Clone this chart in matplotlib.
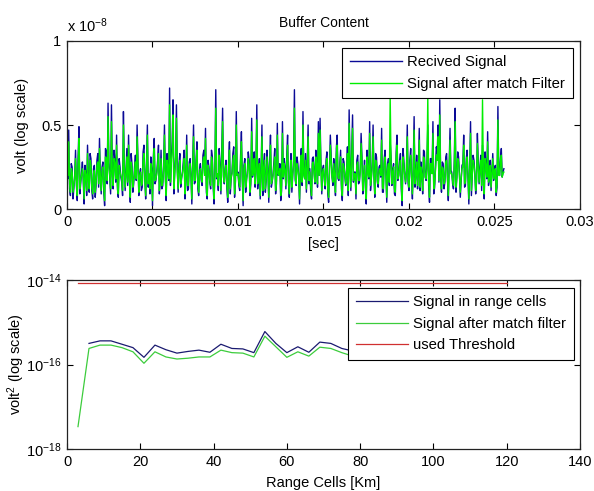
import numpy as np
import matplotlib
matplotlib.use("Agg")
import matplotlib.pyplot as plt
from matplotlib.ticker import FuncFormatter, FixedLocator

plt.rcParams['font.family'] = ['Liberation Sans', 'DejaVu Sans']
plt.rcParams['mathtext.fontset'] = 'custom'
plt.rcParams['mathtext.rm'] = 'Liberation Sans'
plt.rcParams['mathtext.it'] = 'Liberation Sans'

# ---------------- data: top panel (units of 1e-10 V) ----------------
dt = 5e-5
# samples at even indices
received_even = [
    30, 47, 8, 25, 12, 35, 5, 49, 15, 28,
    3, 22, 38, 10, 30, 6, 26, 14, 33, 42,
    9, 28, 2, 34, 63, 18, 62, 12, 30, 44,
    7, 25, 16, 58, 11, 36, 44, 4, 27, 15,
    32, 50, 8, 24, 13, 38, 6, 50, 20, 31,
    2, 42, 17, 29, 9, 35, 14, 50, 5, 26,
    72, 30, 65, 22, 62, 10, 33, 18, 28, 6,
    44, 12, 30, 3, 50, 16, 40, 8, 27, 14,
    35, 48, 6, 25, 12, 31, 3, 71, 20, 36,
    9, 60, 15, 29, 4, 40, 18, 33, 7, 58,
    22, 11, 46, 2, 30, 17, 34, 8, 54, 24,
    13, 62, 19, 6, 50, 26, 10, 35, 4, 44,
    16, 28, 9, 51, 21, 5, 52, 30, 12, 44,
    7, 33, 20, 71, 14, 27, 3, 36, 58, 18,
    10, 50, 24, 6, 31, 15, 29, 52, 54, 9,
    26, 12, 34, 4, 44, 19, 30, 8, 44, 17,
    35, 5, 28, 14, 37, 59, 11, 56, 22, 6,
    32, 16, 45, 9, 29, 3, 24, 52, 18, 50,
    7, 31, 13, 26, 48, 10, 35, 4, 30, 40,
    14, 27, 8, 44, 20, 33, 2, 29, 15, 50,
    11, 36, 6, 55, 21, 12, 48, 28, 9, 34,
    17, 50, 4, 30, 52, 13, 37, 50, 65, 10,
    27, 16, 33, 5, 48, 22, 12, 60, 19, 31,
    7, 26, 44, 14, 35, 3, 52, 20, 29, 9,
    45, 15, 32, 38, 6, 27, 46, 18, 11, 33,
    24, 8, 61, 20, 36, 22,
]
# samples at odd indices
received_odd = [
    18, 12, 27, 6, 20, 14, 31, 9, 22, 17,
    26, 8, 19, 33, 11, 24, 7, 29, 13, 21,
    25, 10, 36, 15, 28, 9, 23, 35, 16, 12,
    30, 19, 8, 27, 22, 14, 20, 33, 10, 25,
    17, 29, 21, 11, 34, 18, 27, 13, 9, 24,
    31, 15, 22, 38, 16, 12, 26, 19, 33, 17,
    14, 40, 9, 31, 24, 27, 13, 22, 35, 18,
    11, 28, 20, 26, 15, 30, 12, 23, 17, 32,
    21, 10, 29, 16, 35, 13, 24, 18, 11, 27,
    33, 19, 25, 12, 28, 9, 22, 37, 16, 20,
    14, 31, 18, 26, 10, 23, 29, 15, 19, 34,
    25, 12, 30, 22, 8, 33, 17, 24, 28, 13,
    21, 36, 15, 20, 27, 11, 18, 25, 32, 16,
    23, 10, 29, 17, 31, 19, 26, 14, 21, 33,
    28, 15, 11, 30, 22, 35, 13, 20, 27, 24,
    17, 29, 9, 25, 32, 14, 21, 36, 18, 26,
    12, 30, 19, 23, 8, 27, 34, 16, 22, 29,
    15, 24, 31, 20, 13, 35, 18, 11, 28, 21,
    33, 16, 25, 19, 10, 30, 22, 27, 14, 31,
    24, 9, 34, 17, 28, 12, 36, 20, 23, 15,
    29, 18, 26, 13, 32, 24, 11, 21, 35, 19,
    27, 14, 30, 22, 9, 25, 33, 16, 20, 28,
    12, 31, 18, 26, 23, 15, 29, 10, 34, 21,
    17, 27, 13, 30, 19, 24, 8, 32, 22, 16,
    28, 25, 11, 20, 34, 18, 14, 29, 23, 17,
    26, 13, 21, 30, 19, 24,
]
filtered_even = [
    26, 40, 10, 22, 14, 30, 8, 42, 17, 24,
    6, 20, 33, 12, 26, 9, 23, 16, 28, 36,
    11, 25, 5, 30, 55, 20, 52, 14, 27, 38,
    9, 22, 18, 50, 13, 31, 38, 7, 24, 17,
    28, 43, 10, 22, 15, 33, 8, 44, 21, 27,
    5, 36, 18, 26, 11, 30, 16, 44, 8, 24,
    62, 27, 56, 21, 54, 12, 29, 19, 25, 9,
    38, 14, 27, 6, 43, 17, 35, 10, 24, 16,
    31, 42, 8, 23, 14, 28, 6, 60, 21, 32,
    11, 52, 16, 26, 7, 35, 19, 29, 9, 50,
    21, 13, 40, 5, 27, 18, 30, 10, 46, 22,
    15, 53, 19, 8, 43, 24, 12, 31, 7, 38,
    17, 25, 11, 44, 20, 8, 45, 27, 14, 38,
    9, 29, 21, 60, 15, 24, 6, 32, 50, 18,
    12, 43, 22, 8, 28, 16, 26, 45, 47, 11,
    24, 14, 30, 7, 38, 19, 27, 10, 38, 18,
    31, 8, 25, 15, 33, 51, 13, 48, 21, 9,
    28, 17, 39, 11, 26, 6, 22, 45, 19, 43,
    9, 28, 15, 24, 41, 12, 31, 7, 27, 67,
    15, 25, 10, 38, 20, 29, 5, 26, 16, 43,
    13, 32, 9, 47, 20, 14, 41, 25, 11, 30,
    18, 67, 7, 27, 45, 15, 32, 43, 56, 12,
    24, 17, 29, 8, 41, 21, 14, 52, 19, 28,
    10, 24, 38, 16, 31, 6, 45, 20, 26, 11,
    39, 16, 29, 65, 9, 25, 40, 18, 13, 30,
    22, 10, 53, 20, 32, 21,
]
filtered_odd = [
    20, 15, 24, 10, 18, 16, 27, 12, 20, 19,
    23, 11, 17, 29, 13, 21, 10, 26, 15, 19,
    22, 13, 31, 17, 25, 12, 21, 30, 18, 14,
    26, 20, 11, 24, 21, 16, 19, 28, 13, 22,
    18, 26, 20, 14, 29, 19, 24, 15, 12, 22,
    27, 17, 21, 33, 18, 14, 23, 20, 29, 18,
    16, 35, 12, 28, 22, 24, 15, 21, 30, 19,
    14, 25, 20, 23, 17, 27, 15, 21, 18, 28,
    20, 13, 26, 17, 31, 15, 22, 19, 14, 24,
    29, 20, 23, 15, 25, 12, 21, 32, 17, 20,
    16, 28, 19, 24, 13, 21, 26, 17, 20, 30,
    23, 15, 27, 21, 11, 29, 18, 22, 25, 15,
    20, 31, 17, 21, 24, 14, 19, 23, 28, 17,
    21, 13, 26, 18, 27, 20, 24, 16, 20, 29,
    25, 17, 14, 27, 21, 31, 15, 20, 24, 22,
    18, 26, 12, 23, 28, 16, 20, 32, 19, 24,
    15, 27, 20, 22, 11, 24, 30, 17, 21, 26,
    17, 22, 28, 20, 15, 31, 19, 14, 25, 20,
    29, 17, 23, 20, 13, 27, 21, 24, 16, 28,
    22, 12, 30, 18, 25, 14, 31, 20, 22, 17,
    26, 19, 24, 15, 28, 22, 13, 20, 31, 19,
    24, 16, 27, 21, 12, 23, 29, 17, 20, 25,
    15, 28, 19, 24, 21, 17, 26, 13, 30, 20,
    18, 25, 15, 27, 20, 22, 11, 29, 21, 17,
    25, 23, 14, 20, 30, 19, 16, 26, 22, 18,
    24, 15, 20, 27, 19, 22,
]

# ---------------- data: bottom panel ----------------
range_blue = [6, 9, 12, 15, 18, 21, 24, 27, 30, 33, 36, 39, 42, 45, 48, 51,
              54, 57, 60, 63, 66, 69, 72, 75, 78]
signal_cells = [3.16e-16, 3.63e-16, 3.63e-16, 3.02e-16, 2.51e-16, 1.48e-16,
                2.88e-16, 2.24e-16, 1.86e-16, 2.04e-16, 2.19e-16, 1.95e-16,
                3.02e-16, 2.40e-16, 2.34e-16, 1.91e-16, 6.03e-16, 3.16e-16,
                1.91e-16, 2.63e-16, 1.95e-16, 3.39e-16, 3.16e-16, 2.40e-16,
                2.09e-16]
range_green = [3, 6, 9, 12, 15, 18, 21, 24, 27, 30, 33, 36, 39, 42, 45, 48,
               51, 54, 57, 60, 63, 66, 69, 72, 75, 78]
signal_mf = [3.39e-18, 2.40e-16, 2.88e-16, 2.88e-16, 2.51e-16, 2.00e-16,
             1.07e-16, 2.00e-16, 1.51e-16, 1.35e-16, 1.41e-16, 1.51e-16,
             1.51e-16, 2.19e-16, 1.91e-16, 1.86e-16, 1.51e-16, 4.68e-16,
             2.63e-16, 1.48e-16, 2.00e-16, 1.58e-16, 2.57e-16, 2.40e-16,
             1.91e-16, 1.58e-16]
threshold_range = [3, 120]
threshold = [8.3e-15, 8.3e-15]

BLUE = '#0a0a96'
GREEN = '#00ee00'
FS = 10.5

received_signal = np.column_stack([received_even, received_odd]).ravel() * 1e-10
filtered_signal = np.column_stack([filtered_even, filtered_odd]).ravel() * 1e-10
t = np.arange(len(received_signal)) * dt

fig = plt.figure(figsize=(5.94, 4.91), dpi=100)
fig.patch.set_facecolor('white')

# ---------------- top axes ----------------
ax1 = fig.add_axes([0.1128, 0.5743, 0.8636, 0.3422])
ax1.plot(t, received_signal, color=BLUE, lw=1.0, label='Recived Signal')
ax1.plot(t, filtered_signal, color=GREEN, lw=1.0,
         label='Signal after match Filter')
ax1.set_xlim(0, 0.03)
ax1.set_ylim(0, 1e-8)
ax1.xaxis.set_major_locator(FixedLocator([0, 0.005, 0.01, 0.015, 0.02, 0.025, 0.03]))
ax1.yaxis.set_major_locator(FixedLocator([0, 0.5e-8, 1e-8]))
ax1.xaxis.set_major_formatter(FuncFormatter(lambda v, p: f'{v:g}'))
ax1.yaxis.set_major_formatter(FuncFormatter(lambda v, p: f'{v/1e-8:g}'))
ax1.set_title('Buffer Content', fontsize=10, pad=10)
ax1.set_xlabel('[sec]', fontsize=FS, labelpad=6)
ax1.set_ylabel('volt (log scale)', fontsize=FS, labelpad=9)
ax1.text(0.0, 1.035, r'x 10$^{-8}$', transform=ax1.transAxes, fontsize=10.5,
         ha='left', va='bottom')
leg1 = ax1.legend(loc='upper right', bbox_to_anchor=(0.986, 0.958),
                  fontsize=10.7, frameon=True, fancybox=False, framealpha=1,
                  edgecolor='black', borderpad=0.5, handlelength=3.5,
                  handletextpad=0.38, labelspacing=0.5, borderaxespad=0)
leg1.get_frame().set_linewidth(0.8)

# ---------------- bottom axes ----------------
ax2 = fig.add_axes([0.1128, 0.0855, 0.8636, 0.3442])
ax2.plot(range_blue, signal_cells, color='#1a1a70', lw=0.9,
         label='Signal in range cells')
ax2.plot(range_green, signal_mf, color='#3ccc3c', lw=0.9,
         label='Signal after match filter')
ax2.plot(threshold_range, threshold, color='#d03030', lw=0.9,
         label='used Threshold')
ax2.set_yscale('log')
ax2.set_xlim(0, 140)
ax2.set_ylim(1e-18, 1e-14)
ax2.xaxis.set_major_locator(FixedLocator([0, 20, 40, 60, 80, 100, 120, 140]))
ax2.yaxis.set_major_locator(FixedLocator([1e-18, 1e-16, 1e-14]))
ax2.yaxis.set_minor_locator(FixedLocator([]))
ax2.yaxis.set_major_formatter(FuncFormatter(
    lambda v, p: r'10$^{%d}$' % int(round(np.log10(v)))))
ax2.set_xlabel('Range Cells [Km]', fontsize=FS, labelpad=5)
ax2.set_ylabel(r'volt$^2$ (log scale)', fontsize=FS, labelpad=-1)
leg2 = ax2.legend(loc='upper right', bbox_to_anchor=(0.988, 0.953),
                  fontsize=10.7, frameon=True, fancybox=False, framealpha=1,
                  edgecolor='black', borderpad=0.5, handlelength=3.5,
                  handletextpad=0.38, labelspacing=0.5, borderaxespad=0)
leg2.get_frame().set_linewidth(0.8)

for ax in (ax1, ax2):
    ax.tick_params(direction='in', top=True, right=True, labelsize=FS,
                   length=4, width=0.8, pad=4)
    ax.tick_params(which='minor', length=0)
    for s in ax.spines.values():
        s.set_linewidth(0.9)
        s.set_color('#222222')

fig.savefig('out.png', dpi=100, facecolor='white')
